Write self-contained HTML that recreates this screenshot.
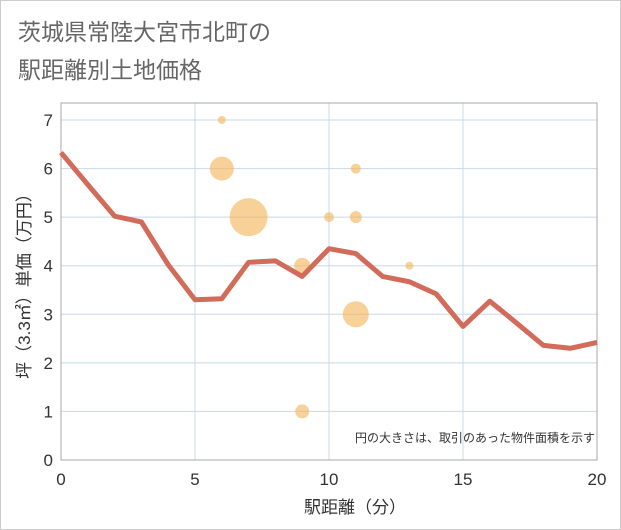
<!DOCTYPE html>
<html><head><meta charset="utf-8"><style>
body{margin:0;background:#fff;}
svg{display:block;font-family:"Liberation Sans","Noto Sans CJK JP",sans-serif;}
</style></head><body>
<svg width="621" height="530">
<rect x="0.5" y="0.5" width="620" height="529" fill="#fff" stroke="#ccc"/>
<text x="18" y="40" font-size="23" fill="#666">茨城県常陸大宮市北町の</text>
<text x="18" y="78" font-size="23" fill="#666">駅距離別土地価格</text>
<g id="grid"></g>
<g id="bubbles"></g>
<g id="line"></g>
<g id="axes"></g>
<text x="595" y="442" font-size="12" fill="#333" text-anchor="end">円の大きさは、取引のあった物件面積を示す</text>
<text x="355" y="513" font-size="17" fill="#333" text-anchor="middle">駅距離（分）</text>
<text transform="translate(30,282) rotate(-90)" font-size="17" fill="#333" text-anchor="middle">坪（3.3㎡）単価（万円）</text>
</svg>
<script>
const xTicks=[0,5,10,15,20];
const yTicks=[0,1,2,3,4,5,6,7];
const lineX=[0,1,2,3,4,5,6,7,8,9,10,11,12,13,14,15,16,17,18,19,20];
const lineY=[6.33,5.67,5.02,4.9,4.02,3.3,3.32,4.07,4.1,3.78,4.35,4.25,3.78,3.67,3.42,2.75,3.27,2.82,2.36,2.3,2.42];
const bubX=[6,6,7,9,10,11,11,11,13,9];
const bubY=[7,6,5,4,5,6,5,3,4,1];
const bubR=[4,12,19,8,5,5,6,13,4,7];
const L=61,R=597,T=103,B=460;
const sx=v=>L+(R-L)*v/20;
const sy=v=>B-(B-120)*v/7;
const NS="http://www.w3.org/2000/svg";
function mk(tag,attrs,parent){const e=document.createElementNS(NS,tag);for(const k in attrs)e.setAttribute(k,attrs[k]);parent.appendChild(e);return e;}
const grid=document.getElementById('grid');
yTicks.forEach(v=>{const l=mk('line',{x1:L,x2:R,y1:sy(v),y2:sy(v),stroke:'#c8d8ea','stroke-width':1},grid);

});
xTicks.forEach(v=>{const l=mk('line',{x1:sx(v),x2:sx(v),y1:T,y2:B,stroke:'#c8d8ea','stroke-width':1},grid);

});
const fr=mk('rect',{x:L,y:T,width:R-L,height:B-T,fill:'none',stroke:'#aaa'},grid);


const bg=document.getElementById('bubbles');
bubX.forEach((x,i)=>{const c=mk('circle',{cx:sx(x),cy:sy(bubY[i]),r:bubR[i],fill:'#f3b95f','fill-opacity':0.65},bg);

});
const lg=document.getElementById('line');
const p=mk('polyline',{points:lineX.map((x,i)=>sx(x)+','+sy(lineY[i])).join(' '),fill:'none',stroke:'#d36b5a','stroke-width':5,'stroke-linejoin':'round'},lg);


const ax=document.getElementById('axes');
xTicks.forEach(v=>{const t=mk('text',{x:sx(v),y:485,'font-size':17,fill:'#333','text-anchor':'middle'},ax);t.textContent=v;

});
yTicks.forEach(v=>{const t=mk('text',{x:53,y:sy(v)+6,'font-size':17,fill:'#333','text-anchor':'end'},ax);t.textContent=v;

});
</script>
</body></html>
